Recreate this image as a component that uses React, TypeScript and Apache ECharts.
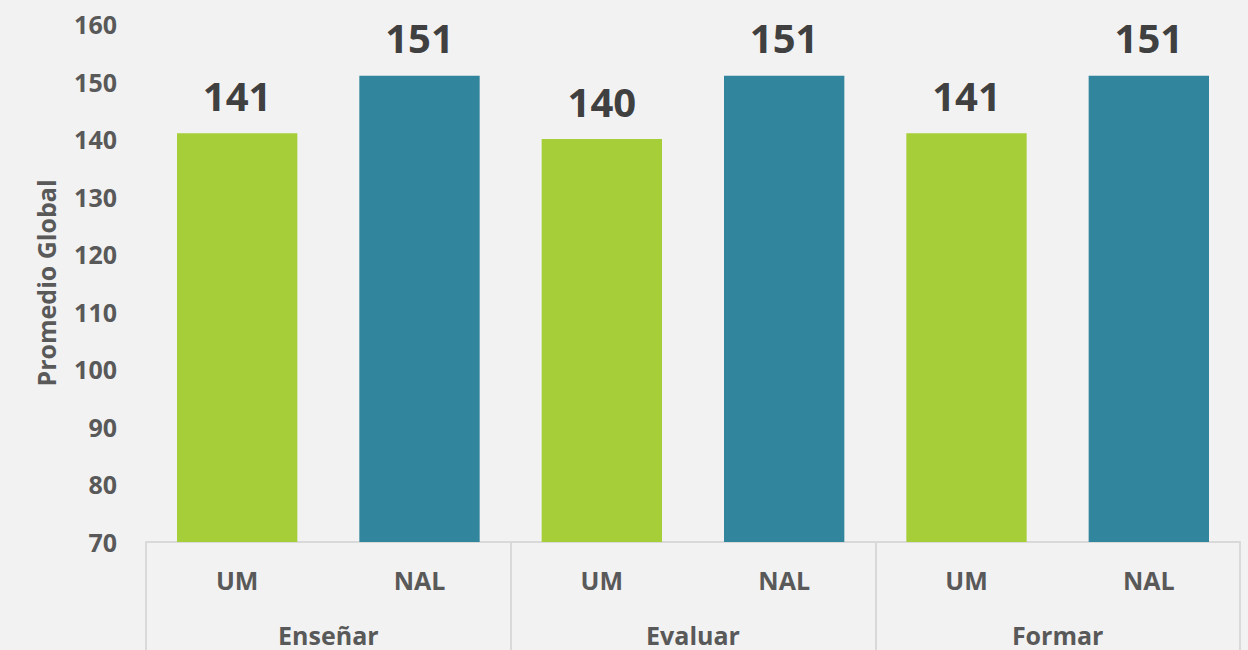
import React, { useEffect, useRef } from "react";
import * as echarts from "echarts";

const groups = ["Enseñar", "Evaluar", "Formar"];
const subCategories = ["UM", "NAL", "UM", "NAL", "UM", "NAL"];
const values = [141, 151, 140, 151, 141, 151];
const seriesColors: Record<string, string> = { UM: "#a6ce39", NAL: "#31859c" };
const yAxisName = "Promedio Global";

export default function App() {
  const ref = useRef<HTMLDivElement>(null);
  useEffect(() => {
    if (!ref.current) return;
    const chart = echarts.init(ref.current, undefined, { renderer: "svg" });
    const font = "'Open Sans', 'Noto Sans', sans-serif";
    chart.setOption({
      animation: false,
      backgroundColor: "#f2f2f2",
      grid: { left: 146, right: 8, top: 24, bottom: 108, containLabel: false },
      xAxis: [
        {
          type: "category",
          data: subCategories,
          position: "bottom",
          axisLine: { show: true, lineStyle: { color: "#d9d9d9", width: 2 } },
          axisTick: { show: false },
          axisLabel: {
            margin: 25,
            color: "#595959",
            fontWeight: "bold",
            fontSize: 25,
            fontFamily: font,
          },
        },
        {
          type: "category",
          data: groups,
          position: "bottom",
          axisLine: { show: false },
          axisTick: {
            show: true,
            length: 110,
            interval: 0,
            lineStyle: { color: "#d9d9d9", width: 2 },
          },
          axisLabel: {
            margin: 80,
            color: "#595959",
            fontWeight: "bold",
            fontSize: 25,
            fontFamily: font,
          },
        },
      ],
      yAxis: {
        type: "value",
        min: 70,
        max: 160,
        interval: 10,
        name: yAxisName,
        nameLocation: "middle",
        nameGap: 88,
        nameTextStyle: {
          color: "#595959",
          fontWeight: "bold",
          fontSize: 25,
          fontFamily: font,
        },
        axisLine: { show: false },
        axisTick: { show: false },
        splitLine: { show: false },
        axisLabel: {
          margin: 29,
          color: "#595959",
          fontWeight: "bold",
          fontSize: 25,
          fontFamily: font,
        },
      },
      series: [
        {
          type: "bar",
          xAxisIndex: 0,
          barWidth: "66%",
          data: values.map((v, i) => ({
            value: v,
            itemStyle: { color: seriesColors[subCategories[i]] },
          })),
          label: {
            show: true,
            position: "top",
            distance: 18,
            color: "#404040",
            fontWeight: "bold",
            fontSize: 40,
            fontFamily: font,
          },
        },
      ],
    });
    return () => chart.dispose();
  }, []);
  return <div ref={ref} style={{ width: 1248, height: 650, position: "fixed", left: 0, top: 0 }} />;
}
